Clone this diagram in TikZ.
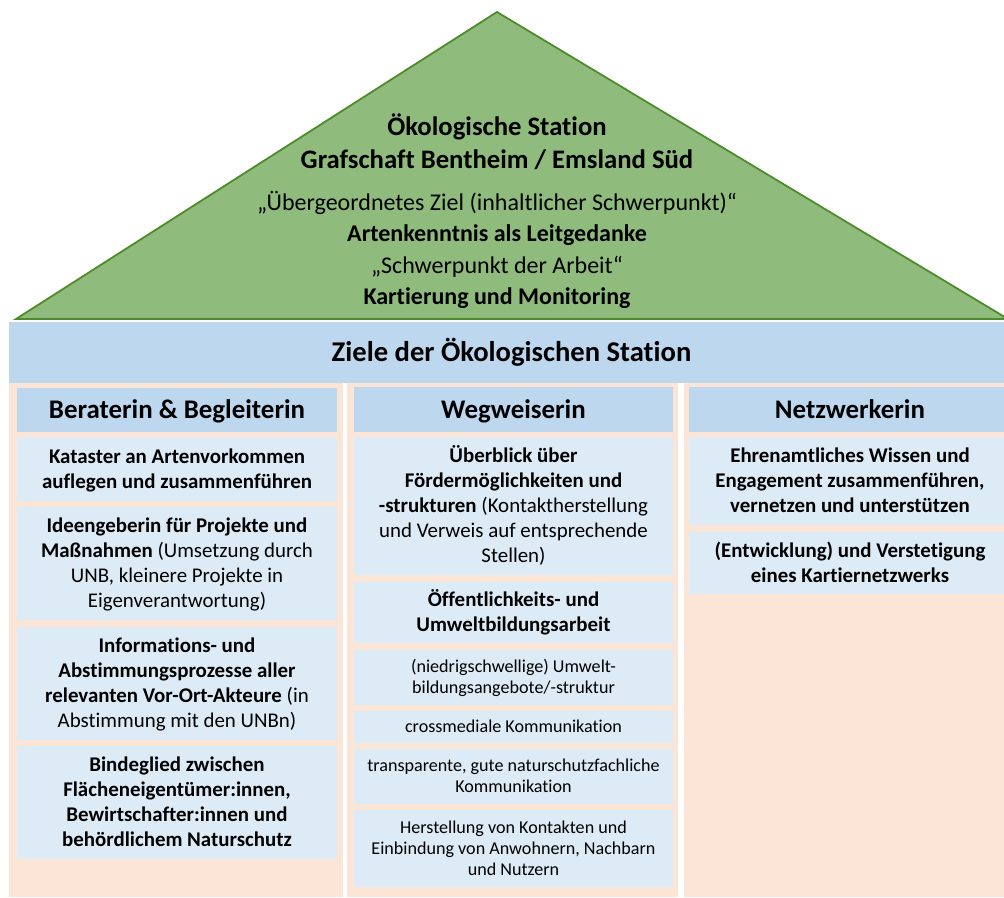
\documentclass[tikz,border=0pt]{standalone}
\usepackage{fontspec}
\setmainfont{Carlito}[Ligatures=NoCommon]
\definecolor{roofgreen}{HTML}{8FBB7D}
\definecolor{roofline}{HTML}{4E8B2A}
\definecolor{headblue}{HTML}{BDD7EE}
\definecolor{paleblue}{HTML}{DDEBF7}
\definecolor{peach}{HTML}{FBE5D6}
\newcommand{\bodyfont}{\fontsize{20.9}{25}\selectfont}
\newcommand{\smallfont}{\fontsize{18.1}{21}\selectfont}
% boxes centre their text between the cap line of the first row
% and the baseline of the last row; #1 = (rows-1) * baselineskip
\tikzset{
  roof/.style={fill=roofgreen, draw=roofline, line width=1.8pt, line join=miter},
  rooftitle/.style={inner sep=0pt, anchor=base, font=\fontsize{26.7}{31}\selectfont\bfseries},
  roofline/.style={inner sep=0pt, anchor=base, font=\fontsize{24}{28}\selectfont},
  roofbold/.style={roofline, font=\fontsize{24}{28}\selectfont\bfseries},
  band/.style={fill=headblue, inner sep=0pt, text height=18.4pt, text depth=0pt,
    font=\fontsize{28.6}{33}\selectfont\bfseries},
  column/.style={fill=peach},
  colhead/.style={fill=headblue, inner sep=0pt, text height=17.3pt, text depth=0pt,
    font=\fontsize{26.9}{31}\selectfont\bfseries},
  goalbox/.style={fill=paleblue, inner sep=0pt, align=flush center, text width=318pt,
    text height=13.5pt, text depth=#1, font=\bodyfont},
  goalbold/.style={goalbox=#1, font=\bodyfont\bfseries},
  smallbox/.style={fill=paleblue, inner sep=0pt, align=flush center, text width=318pt,
    text height=11.7pt, text depth=#1, font=\smallfont}
}
\begin{document}
\begin{tikzpicture}[x=1pt,y=-1pt]
\useasboundingbox (0,0) rectangle (1004,897);
\begin{scope}
\clip (0,0) rectangle (1004,897);

% roof
\draw[roof] (16,319) -- (497,12) -- (1008,319) -- cycle;
\node[rooftitle] (t1) at (497,135) {Ökologische Station};
\node[rooftitle] (t2) at (497,168.3) {Grafschaft Bentheim / Emsland Süd};
\node[roofline] (t3) at (497,210) {„Übergeordnetes Ziel (inhaltlicher Schwerpunkt)“};
\node[roofbold] (t4) at (497,241.7) {Artenkenntnis als Leitgedanke};
\node[roofline] (t5) at (497,273.3) {„Schwerpunkt der Arbeit“};
\node[roofbold] (t6) at (497,304) {Kartierung und Monitoring};

% band
\node[band, minimum width=1005pt, minimum height=61pt] (ziele) at (511.5,352.5) {Ziele der Ökologischen Station};

% columns
\fill[column] (9,383) rectangle (343,897);
\fill[column] (347,383) rectangle (678,897);
\fill[column] (684,383) rectangle (1016,897);

% column 1
\node[colhead, minimum width=320pt, minimum height=44pt] (h1) at (177,410) {Beraterin \& Begleiterin};
\node[goalbold=25pt, minimum width=320pt, minimum height=64pt] (a1) at (177,469)
  {Kataster an Artenvorkommen\\auflegen und zusammenführen};
\node[goalbox=75pt, minimum width=320pt, minimum height=113pt] (a2) at (177,563.5)
  {\textbf{Ideengeberin für Projekte und}\\\textbf{Maßnahmen} (Umsetzung durch\\UNB, kleinere Projekte in\\Eigenverantwortung)};
\node[goalbox=75pt, minimum width=320pt, minimum height=113pt] (a3) at (177,683.5)
  {\textbf{Informations- und}\\\textbf{Abstimmungsprozesse aller}\\\textbf{relevanten Vor-Ort-Akteure} (in\\Abstimmung mit den UNBn)};
\node[goalbold=75pt, minimum width=320pt, minimum height=113pt] (a4) at (177,802.5)
  {Bindeglied zwischen\\Flächeneigentümer:innen,\\Bewirtschafter:innen und\\behördlichem Naturschutz};

% column 2
\node[colhead, minimum width=319pt, minimum height=45pt] (h2) at (513.5,409.5) {Wegweiserin};
\node[goalbox=100pt, minimum width=319pt, minimum height=138pt] (b1) at (513.5,506)
  {\textbf{Überblick über}\\\textbf{Fördermöglichkeiten und}\\\textbf{-strukturen} (Kontaktherstellung\\und Verweis auf entsprechende\\Stellen)};
\node[goalbold=25pt, minimum width=319pt, minimum height=61pt] (b2) at (513.5,612.5)
  {Öffentlichkeits- und\\Umweltbildungsarbeit};
\node[smallbox=21pt, minimum width=319pt, minimum height=55pt] (b3) at (513.5,677.5)
  {(niedrigschwellige) Umwelt-\\bildungsangebote/-struktur};
\node[smallbox=0pt, minimum width=319pt, minimum height=32pt] (b4) at (513.5,727)
  {crossmediale Kommunikation};
\node[smallbox=21pt, minimum width=319pt, minimum height=55pt] (b5) at (513.5,776.5)
  {transparente, gute naturschutzfachliche\\Kommunikation};
\node[smallbox=42pt, minimum width=319pt, minimum height=77pt] (b6) at (513.5,848.5)
  {Herstellung von Kontakten und\\Einbindung von Anwohnern, Nachbarn\\und Nutzern};

% column 3
\node[colhead, minimum width=322pt, minimum height=45pt] (h3) at (850,409.5) {Netzwerkerin};
\node[goalbold=50pt, minimum width=322pt, minimum height=88pt] (c1) at (850,481)
  {Ehrenamtliches Wissen und\\Engagement zusammenführen,\\vernetzen und unterstützen};
\node[goalbold=25pt, minimum width=322pt, minimum height=62pt] (c2) at (850,563)
  {(Entwicklung) und Verstetigung\\eines Kartiernetzwerks};
\end{scope}
\end{tikzpicture}
\end{document}
